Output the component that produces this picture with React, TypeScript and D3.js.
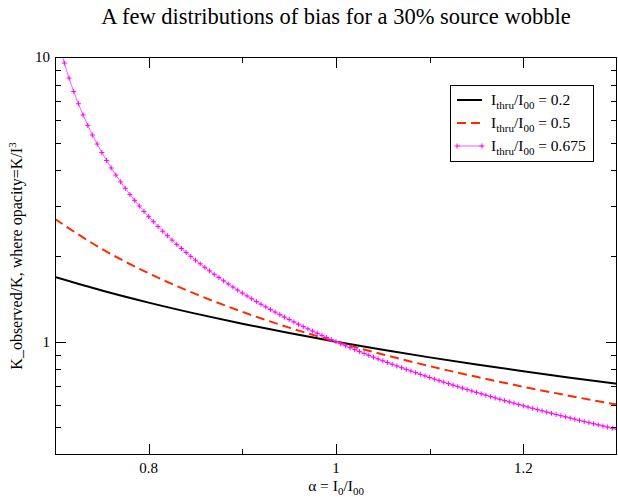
import React from 'react';
import * as d3 from 'd3';

const W = 618;
const H = 497;
const M = { left: 55, right: 617, top: 57, bottom: 455 };

// alpha = I0/I00 samples
const alphaCoarse = [0.7, 0.75, 0.8, 0.85, 0.9, 0.95, 1.0, 1.05, 1.1, 1.15, 1.2, 1.25, 1.3];

// I_thru/I00 = 0.2
const bias02 = [1.687, 1.513, 1.372, 1.2551, 1.1566, 1.0726, 1.0, 0.9366, 0.8809, 0.8314, 0.7873, 0.7475, 0.7116];
// I_thru/I00 = 0.5
const bias05 = [2.697, 2.118, 1.739, 1.4715, 1.2734, 1.1209, 1.0, 0.9019, 0.8208, 0.7527, 0.6946, 0.6446, 0.6011];

// I_thru/I00 = 0.675, sampled finer (every point carries a marker)
const alphaFine = [
  0.7, 0.705, 0.71, 0.715, 0.72, 0.725, 0.73, 0.735, 0.74, 0.745,
  0.75, 0.755, 0.76, 0.765, 0.77, 0.775, 0.78, 0.785, 0.79, 0.795,
  0.8, 0.805, 0.81, 0.815, 0.82, 0.825, 0.83, 0.835, 0.84, 0.845,
  0.85, 0.855, 0.86, 0.865, 0.87, 0.875, 0.88, 0.885, 0.89, 0.895,
  0.9, 0.905, 0.91, 0.915, 0.92, 0.925, 0.93, 0.935, 0.94, 0.945,
  0.95, 0.955, 0.96, 0.965, 0.97, 0.975, 0.98, 0.985, 0.99, 0.995,
  1.0, 1.005, 1.01, 1.015, 1.02, 1.025, 1.03, 1.035, 1.04, 1.045,
  1.05, 1.055, 1.06, 1.065, 1.07, 1.075, 1.08, 1.085, 1.09, 1.095,
  1.1, 1.105, 1.11, 1.115, 1.12, 1.125, 1.13, 1.135, 1.14, 1.145,
  1.15, 1.155, 1.16, 1.165, 1.17, 1.175, 1.18, 1.185, 1.19, 1.195,
  1.2, 1.205, 1.21, 1.215, 1.22, 1.225, 1.23, 1.235, 1.24, 1.245,
  1.25, 1.255, 1.26, 1.265, 1.27, 1.275, 1.28, 1.285, 1.29, 1.295, 1.3,
];
const bias0675 = [
  12.73, 10.9, 9.52, 8.434, 7.566, 6.853, 6.258, 5.753, 5.321, 4.947,
  4.62, 4.332, 4.076, 3.848, 3.643, 3.458, 3.29, 3.136, 2.996, 2.868,
  2.749, 2.64, 2.538, 2.444, 2.356, 2.274, 2.197, 2.125, 2.058, 1.994,
  1.934, 1.878, 1.824, 1.7736, 1.7254, 1.6798, 1.6365, 1.5952, 1.5557, 1.5182,
  1.4822, 1.448, 1.4152, 1.3838, 1.3538, 1.3248, 1.2971, 1.2705, 1.2447, 1.2202,
  1.1965, 1.1734, 1.1515, 1.1302, 1.1096, 1.0898, 1.0707, 1.052, 1.0341, 1.0168,
  1.0, 0.9837, 0.9679, 0.9526, 0.9378, 0.9233, 0.9093, 0.8956, 0.8824, 0.8696,
  0.8571, 0.8449, 0.8331, 0.8216, 0.8103, 0.7994, 0.7887, 0.7783, 0.7681, 0.7583,
  0.7487, 0.7393, 0.73, 0.721, 0.7123, 0.7037, 0.6953, 0.6872, 0.6791, 0.6713,
  0.6637, 0.6562, 0.6488, 0.6416, 0.6347, 0.6278, 0.6211, 0.6144, 0.608, 0.6016,
  0.5954, 0.5893, 0.5833, 0.5774, 0.5717, 0.566, 0.5605, 0.555, 0.5497, 0.5445,
  0.5393, 0.5343, 0.5293, 0.5244, 0.5196, 0.5149, 0.5103, 0.5058, 0.5013, 0.4969, 0.4925,
];

const xMajor = [0.8, 1, 1.2];
const xMinor = [0.9, 1.1];
const yMajor = [1, 10];
const yMinor = [0.5, 0.6, 0.7, 0.8, 0.9, 2, 3, 4, 5, 6, 7, 8, 9];

const FONT = "'Liberation Serif', 'DejaVu Serif', serif";

export default function App() {
  const x = d3.scaleLinear().domain([0.7, 1.3]).range([M.left, M.right]);
  const y = d3.scaleLog().domain([0.4, 10]).range([M.bottom, M.top]);

  const mk = (xs: number[], ys: number[]) => xs.map((a, i) => [a, ys[i]] as [number, number]);
  const line = d3
    .line<[number, number]>()
    .x((d) => x(d[0]))
    .y((d) => y(d[1]))
    .curve(d3.curveMonotoneX);

  const black = mk(alphaCoarse, bias02);
  const red = mk(alphaCoarse, bias05);
  const mag = mk(alphaFine, bias0675);

  const majLen = 11;
  const minLen = 6;

  const legendRows = [
    { label: '0.2', color: '#000', dash: undefined as string | undefined, w: 2, marker: false },
    { label: '0.5', color: '#ff2a00', dash: '9,5', w: 2, marker: false },
    { label: '0.675', color: '#ff55ff', dash: undefined, w: 1, marker: true },
  ];

  return (
    <svg
      width={W}
      height={H}
      style={{ position: 'absolute', left: 0, top: 0, background: '#fff', fontFamily: FONT }}
    >
      <defs>
        <clipPath id="plot">
          <rect x={M.left} y={M.top} width={M.right - M.left} height={M.bottom - M.top} />
        </clipPath>
      </defs>

      {/* title */}
      <text x={(M.left + M.right) / 2} y={24} textAnchor="middle" fontSize={22.5} fill="#000">
        A few distributions of bias for a 30% source wobble
      </text>

      {/* curves */}
      <g clipPath="url(#plot)">
        <path d={line(black) || ''} fill="none" stroke="#000" strokeWidth={2} />
        <path d={line(red) || ''} fill="none" stroke="#ff2a00" strokeWidth={2} strokeDasharray="9,5" />
        <path d={line(mag) || ''} fill="none" stroke="#ff55ff" strokeWidth={1} />
        {mag.map((d, i) => (
          <path
            key={i}
            d={`M${x(d[0]) - 2.5},${y(d[1])}h5M${x(d[0])},${y(d[1]) - 2.5}v5`}
            stroke="#ff00ff"
            strokeWidth={1}
          />
        ))}
      </g>

      {/* frame */}
      <rect
        x={M.left + 0.5}
        y={M.top + 0.5}
        width={M.right - M.left - 1}
        height={M.bottom - M.top - 1}
        fill="none"
        stroke="#000"
        strokeWidth={1}
      />

      {/* x ticks, bottom and top */}
      {[...xMajor.map((v) => [v, majLen]), ...xMinor.map((v) => [v, minLen])].map(([v, len], i) => {
        const px = Math.round(x(v)) + 0.5;
        return (
          <g key={'xt' + i} stroke="#000" strokeWidth={1}>
            <line x1={px} x2={px} y1={M.bottom} y2={M.bottom - len} />
            <line x1={px} x2={px} y1={M.top} y2={M.top + len} />
          </g>
        );
      })}
      {xMajor.map((v) => (
        <text key={'xl' + v} x={x(v)} y={473} textAnchor="middle" fontSize={15}>
          {String(v)}
        </text>
      ))}

      {/* y ticks, left and right */}
      {[...yMajor.map((v) => [v, majLen]), ...yMinor.map((v) => [v, minLen])].map(([v, len], i) => {
        const py = Math.round(y(v)) + 0.5;
        return (
          <g key={'yt' + i} stroke="#000" strokeWidth={1}>
            <line x1={M.left} x2={M.left + len} y1={py} y2={py} />
            <line x1={M.right} x2={M.right - len} y1={py} y2={py} />
          </g>
        );
      })}
      {yMajor.map((v) => (
        <text key={'yl' + v} x={50} y={y(v) + 5} textAnchor="end" fontSize={15}>
          {String(v)}
        </text>
      ))}

      {/* x axis label */}
      <text x={(M.left + M.right) / 2} y={491} textAnchor="middle" fontSize={15.5}>
        α = I<tspan dy={4} fontSize={11}>0</tspan>
        <tspan dy={-4}>/I</tspan>
        <tspan dy={4} fontSize={11}>00</tspan>
      </text>

      {/* y axis label */}
      <text
        transform={`translate(22,${(M.top + M.bottom) / 2}) rotate(-90)`}
        textAnchor="middle"
        fontSize={16}
      >
        K_observed/K, where opacity=K/I<tspan dy={-6} fontSize={11}>3</tspan>
      </text>

      {/* legend */}
      <rect x={450.5} y={85.5} width={143} height={76} fill="#fff" stroke="#000" strokeWidth={1} />
      {legendRows.map((r, i) => {
        const ly = 100 + i * 23;
        return (
          <g key={'lg' + i}>
            <line x1={457} x2={482} y1={ly} y2={ly} stroke={r.color} strokeWidth={r.w} strokeDasharray={r.dash} />
            {r.marker &&
              [457, 482].map((mx) => (
                <path key={mx} d={`M${mx - 2.5},${ly}h5M${mx},${ly - 2.5}v5`} stroke="#ff00ff" strokeWidth={1} />
              ))}
            <text x={491} y={ly + 5} fontSize={15.5}>
              I<tspan dy={4} fontSize={11}>thru</tspan>
              <tspan dy={-4}>/I</tspan>
              <tspan dy={4} fontSize={11}>00</tspan>
              <tspan dy={-4}>{' = ' + r.label}</tspan>
            </text>
          </g>
        );
      })}
    </svg>
  );
}
